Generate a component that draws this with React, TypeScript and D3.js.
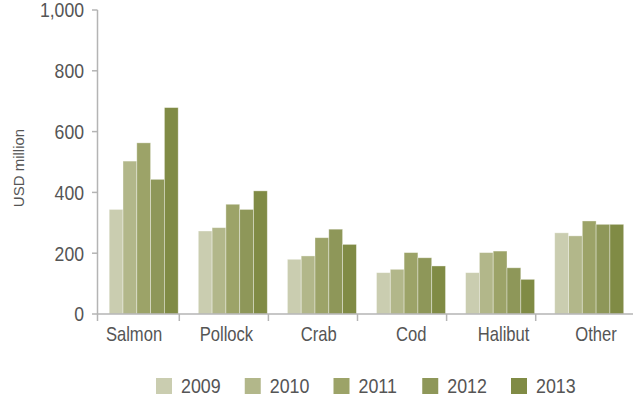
import React from "react";
import * as d3 from "d3";

const categories = ["Salmon", "Pollock", "Crab", "Cod", "Halibut", "Other"];
const years = ["2009", "2010", "2011", "2012", "2013"];
const v2009 = [344, 273, 180, 136, 136, 267];
const v2010 = [503, 284, 191, 147, 202, 257];
const v2011 = [563, 361, 251, 202, 207, 306];
const v2012 = [443, 344, 279, 185, 152, 295];
const v2013 = [679, 405, 229, 158, 114, 295];
const series = [v2009, v2010, v2011, v2012, v2013];
const colors = ["#cacdb0", "#b2b78a", "#9ca368", "#8e9759", "#808b45"];
const yTicks = [0, 200, 400, 600, 800, 1000];

const W = 633;
const H = 397;
const FONT = "'Liberation Sans', Arial, sans-serif";

function NText(props: {
  x: number;
  y: number;
  anchor?: "start" | "middle" | "end";
  size: number;
  fill: string;
  rotate?: number;
  sx?: number;
  dy?: string;
  children: React.ReactNode;
}) {
  const { x, y, anchor = "start", size, fill, rotate = 0, sx = 0.83, dy, children } = props;
  return (
    <g transform={`translate(${x},${y}) rotate(${rotate}) scale(${sx},1)`}>
      <text x={0} y={0} dy={dy} textAnchor={anchor} fontSize={size} fill={fill}>
        {children}
      </text>
    </g>
  );
}

export default function App() {
  const y = d3.scaleLinear().domain([0, 1000]).range([314, 10]);
  const x0 = d3.scaleBand<string>().domain(categories).range([101.2, 635.8]).padding(0);
  const x1 = d3.scaleBand<string>().domain(years).range([8, 77]).padding(0);
  const xLabel = d3.scalePoint<string>().domain(categories).range([134, 596]);
  const legendX = d3.scalePoint<string>().domain(years).range([156, 511]);
  const fmt = d3.format(",");
  const axisColor = "#b4b4b4";
  const textColor = "#555";

  return (
    <svg
      width={W}
      height={H}
      style={{ position: "absolute", left: 0, top: 0, display: "block", background: "#fff" }}
      fontFamily={FONT}
    >
      {/* bars */}
      {categories.map((c, ci) => (
        <g key={c} transform={`translate(${x0(c)},0)`}>
          {years.map((yr, si) => (
            <rect
              key={yr}
              x={x1(yr)}
              y={y(series[si][ci])}
              width={x1.bandwidth()}
              height={y(0) - y(series[si][ci])}
              fill={colors[si]}
              stroke="#ffffff"
              strokeOpacity={0.45}
              strokeWidth={0.8}
            />
          ))}
        </g>
      ))}

      {/* y axis */}
      <line x1={97.5} x2={97.5} y1={y(1000)} y2={321} stroke={axisColor} strokeWidth={1.5} />
      {yTicks.map((t) => (
        <g key={t}>
          <line x1={92} x2={97.5} y1={y(t)} y2={y(t)} stroke={axisColor} strokeWidth={1.5} />
          <NText x={84} y={y(t)} dy="0.36em" anchor="end" size={20.5} sx={0.86} fill={textColor}>
            {fmt(t)}
          </NText>
        </g>
      ))}
      <NText x={24} y={168} rotate={-90} anchor="middle" size={15} sx={1} fill={textColor}>
        USD million
      </NText>

      {/* x axis */}
      <line x1={97} x2={W} y1={y(0)} y2={y(0)} stroke={axisColor} strokeWidth={1.5} />
      {categories.slice(1).map((c) => (
        <line
          key={c}
          x1={x0(c)! - 11}
          x2={x0(c)! - 11}
          y1={y(0)}
          y2={321}
          stroke={axisColor}
          strokeWidth={1.5}
        />
      ))}
      {categories.map((c) => (
        <NText key={c} x={xLabel(c)!} y={341} anchor="middle" size={20} sx={0.83} fill={textColor}>
          {c}
        </NText>
      ))}

      {/* legend */}
      {years.map((yr, i) => (
        <g key={yr} transform={`translate(${legendX(yr)},378)`}>
          <rect x={0} y={0} width={16} height={16} fill={colors[i]} />
          <NText x={25} y={15} size={20.5} sx={0.87} fill={textColor}>
            {yr}
          </NText>
        </g>
      ))}
    </svg>
  );
}
